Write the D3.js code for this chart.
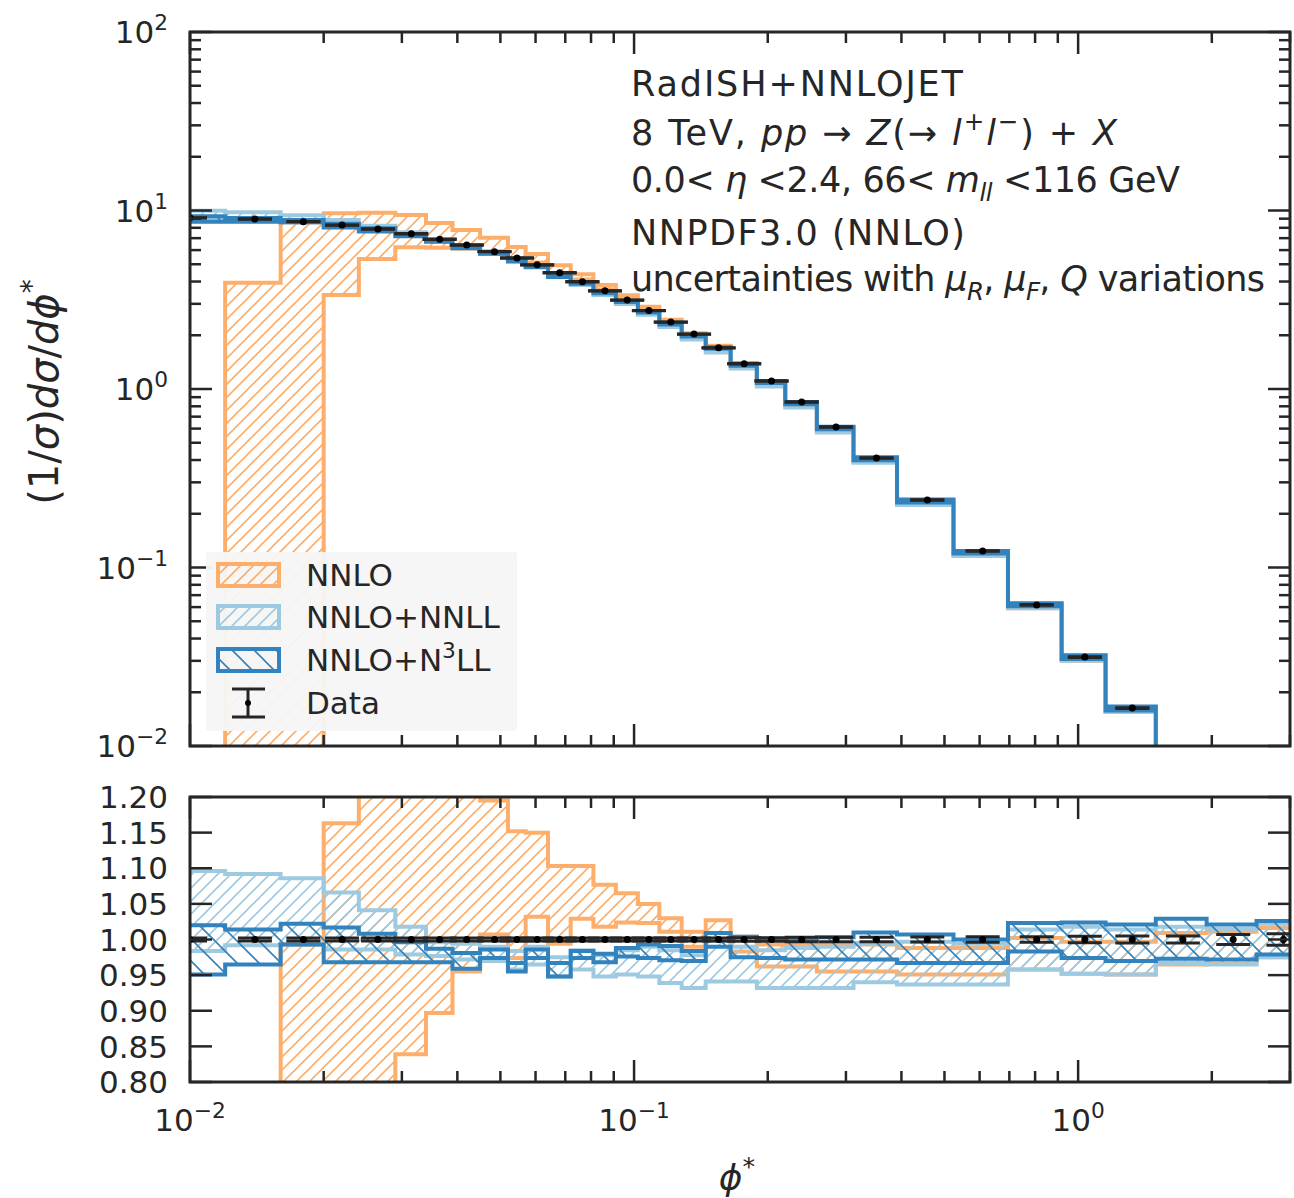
<!DOCTYPE html>
<html><head><meta charset="utf-8">
<script src="https://cdn.jsdelivr.net/npm/d3@7"></script>
<style>body{margin:0;background:#fff} svg text{font-family:"DejaVu Sans", sans-serif;}</style>
</head><body>
<svg id="c" width="1294" height="1198"></svg>
<script>
// ---------------- data ----------------
const binEdges = [0.008,0.012,0.016,0.020,0.024,0.029,0.034,0.039,0.045,0.052,0.057,0.064,0.072,0.081,0.091,0.102,0.114,0.128,0.145,0.165,0.189,0.219,0.258,0.312,0.391,0.524,0.695,0.918,1.153,1.496,1.947,2.522,3.277];
const dataValues = [9.1,8.96,8.66,8.29,7.88,7.41,6.90,6.41,5.88,5.42,4.96,4.48,3.99,3.55,3.15,2.75,2.37,2.03,1.70,1.386,1.109,0.846,0.612,0.411,0.239,0.1237,0.0617,0.0315,0.0163,0.0082,0.0041,0.0019];
const dataRelErr = [0.002,0.002,0.002,0.002,0.002,0.002,0.002,0.002,0.002,0.002,0.002,0.002,0.002,0.002,0.002,0.002,0.002,0.002,0.002,0.0025,0.0025,0.003,0.003,0.003,0.0035,0.004,0.004,0.0047,0.005,0.005,0.007,0.008];
// bands as ratio to data (null = not available, negative = below zero)
const nnloLow  = [null,-1,-1,0.405,0.679,0.839,0.897,0.955,1.007,0.974,1.032,0.994,1.029,1.018,1.024,1.023,1.011,0.990,1.000,0.983,0.962,0.962,0.955,0.955,0.951,0.951,0.958,0.952,0.951,0.965,0.966,0.975];
const nnloHigh = [null,0.44,0.993,1.163,1.233,1.274,1.233,1.213,1.195,1.152,1.150,1.103,1.103,1.077,1.065,1.050,1.030,1.011,1.027,1.004,0.993,0.993,0.993,0.993,0.988,0.988,1.002,0.997,0.997,1.009,1.011,1.016];
const nnllLow  = [0.984,0.992,0.993,0.986,0.986,0.979,0.977,0.972,0.970,0.958,0.965,0.948,0.958,0.948,0.951,0.948,0.939,0.932,0.941,0.941,0.932,0.932,0.932,0.940,0.937,0.937,0.958,0.952,0.951,0.967,0.965,0.975];
const nnllHigh = [1.096,1.092,1.086,1.066,1.041,1.018,0.996,0.994,0.990,0.984,0.990,0.975,0.985,0.978,0.985,0.990,0.985,0.978,0.998,0.990,0.985,0.988,0.990,0.995,0.997,0.994,1.014,1.018,1.014,1.018,1.015,1.022];
const n3llLow  = [0.951,0.965,0.993,0.968,0.968,0.968,0.968,0.959,0.974,0.955,0.974,0.948,0.974,0.968,0.976,0.974,0.971,0.970,0.990,0.975,0.974,0.972,0.972,0.972,0.967,0.967,0.983,0.974,0.970,0.973,0.972,0.979];
const n3llHigh = [1.020,1.014,1.022,1.017,1.008,0.996,0.987,0.981,0.986,0.967,0.986,0.967,0.984,0.980,0.988,0.993,0.991,0.984,1.009,1.004,1.001,1.000,1.003,1.010,1.007,1.000,1.023,1.024,1.021,1.029,1.021,1.026];

const seriesNames = ["NNLO","NNLO+NNLL","NNLO+N³LL"];
const mainTickValues = [0.01,0.1,1,10,100];
const mainTickExps = ["−2","−1","0","1","2"];
const xTickValues = [0.01,0.1,1];
const xTickExps = ["−2","−1","0"];
const ratioTickValues = [0.80,0.85,0.90,0.95,1.00,1.05,1.10,1.15,1.20];
const ratioTickLabels = ["0.80","0.85","0.90","0.95","1.00","1.05","1.10","1.15","1.20"];

// ---------------- layout ----------------
const L = 190, R = 1290, mT = 32, mB = 746, rT = 797, rB = 1082;
const ink = "#262626";
const colors = {nnlo:"#fdae6b", nnll:"#9ecae1", n3ll:"#3182bd"};

const svg = d3.select("#c");
const x = d3.scaleLog().domain([0.01, 3]).range([L, R]);
const yM = d3.scaleLog().domain([0.01, 100]).range([mB, mT]);
const yR = d3.scaleLinear().domain([0.8, 1.2]).range([rB, rT]);

const defs = svg.append("defs");
function hatch(id, color, size, back) {
  const p = defs.append("pattern").attr("id", id).attr("patternUnits","userSpaceOnUse")
    .attr("width", size).attr("height", size);
  const d = back
    ? `M0,0 L${size},${size} M${-size/2},${size/2} L${size/2},${size*1.5} M${size/2},${-size/2} L${size*1.5},${size/2}`
    : `M0,${size} L${size},0 M${-size/2},${size/2} L${size/2},${-size/2} M${size/2},${size*1.5} L${size*1.5},${size/2}`;
  p.append("path").attr("d", d).attr("stroke", color).attr("stroke-width", 1.6).attr("fill","none");
}
hatch("hNNLO", colors.nnlo, 13, false);
hatch("hNNLL", colors.nnll, 13, false);
hatch("hN3LL", colors.n3ll, 22, true);

defs.append("clipPath").attr("id","clipM").append("rect").attr("x",L).attr("y",mT).attr("width",R-L).attr("height",mB-mT);
defs.append("clipPath").attr("id","clipR").append("rect").attr("x",L).attr("y",rT).attr("width",R-L).attr("height",rB-rT);

function bandPath(lo, hi, yFn) {
  const segs = []; let cur = null;
  for (let i = 0; i < lo.length; i++) {
    if (lo[i] === null || hi[i] === null) { cur = null; continue; }
    if (!cur) { cur = []; segs.push(cur); }
    cur.push(i);
  }
  return segs.map(idx => {
    const up = [], dn = [];
    idx.forEach(i => {
      up.push([x(binEdges[i]), yFn(hi[i], i)], [x(binEdges[i+1]), yFn(hi[i], i)]);
      dn.push([x(binEdges[i]), yFn(lo[i], i)], [x(binEdges[i+1]), yFn(lo[i], i)]);
    });
    const pts = up.concat(dn.reverse());
    return "M" + pts.map(p => p[0].toFixed(2) + "," + p[1].toFixed(2)).join("L") + "Z";
  }).join("");
}
const yMainFn = (r, i) => { const v = r * dataValues[i]; return v > 0 ? Math.min(yM(v), mB + 50) : mB + 50; };
const yRatioFn = (r) => Math.max(Math.min(yR(r), rB + 50), rT - 50);

const bands = [
  {lo: nnloLow, hi: nnloHigh, c: colors.nnlo, h: "hNNLO"},
  {lo: nnllLow, hi: nnllHigh, c: colors.nnll, h: "hNNLL"},
  {lo: n3llLow, hi: n3llHigh, c: colors.n3ll, h: "hN3LL"}
];

function drawPanel(clipId, yFn) {
  const g = svg.append("g").attr("clip-path", `url(#${clipId})`);
  bands.forEach(b => {
    g.append("path").attr("d", bandPath(b.lo, b.hi, yFn))
      .attr("fill", `url(#${b.h})`).attr("stroke", b.c).attr("stroke-width", 4)
      .attr("stroke-linejoin","miter");
  });
  return g;
}
const gM = drawPanel("clipM", yMainFn);
const gR = drawPanel("clipR", yRatioFn);

// data error bars
function drawData(g, valFn, yS) {
  dataValues.forEach((v, i) => {
    const cx = x((binEdges[i] + binEdges[i+1]) / 2);
    const val = valFn(i), e = dataRelErr[i] * val;
    const y0 = yS(val - e), y1 = yS(val + e);
    g.append("line").attr("x1",cx).attr("x2",cx).attr("y1",y0).attr("y2",y1).attr("stroke",ink).attr("stroke-width",3);
    [y0, y1].forEach(yy => g.append("line").attr("x1",cx-17).attr("x2",cx+17).attr("y1",yy).attr("y2",yy)
      .attr("stroke",ink).attr("stroke-width",3));
    g.append("circle").attr("cx",cx).attr("cy",yS(val)).attr("r",3.5).attr("fill","#000");
  });
}
drawData(gM, i => dataValues[i], yM);
drawData(gR, i => 1, yR);

// ---------------- axes ----------------
const tickW = 2.5, major = 22, minor = 11;
function tick(x1, y1, x2, y2) {
  svg.append("line").attr("x1",x1).attr("y1",y1).attr("x2",x2).attr("y2",y2).attr("stroke",ink).attr("stroke-width",tickW);
}
const xAll = x.ticks().filter(t => t >= 0.01 && t <= 3);
function xTicks(top, bottom) {
  xAll.forEach(t => {
    const isMajor = xTickValues.some(m => Math.abs(m - t) / m < 1e-6);
    const len = isMajor ? major : minor;
    tick(x(t), bottom, x(t), bottom - len);
    tick(x(t), top, x(t), top + len);
  });
}
xTicks(mT, mB); xTicks(rT, rB);

const yAll = yM.ticks().filter(t => t >= 0.01 && t <= 100);
yAll.forEach(t => {
  const isMajor = mainTickValues.some(m => Math.abs(m - t) / m < 1e-6);
  const len = isMajor ? major : minor;
  tick(L, yM(t), L + len, yM(t));
  tick(R, yM(t), R - len, yM(t));
});
ratioTickValues.forEach(t => {
  tick(L, yR(t), L + major, yR(t));
  tick(R, yR(t), R - major, yR(t));
});

// spines
[[mT, mB], [rT, rB]].forEach(([t, b]) => {
  svg.append("rect").attr("x",L).attr("y",t).attr("width",R-L).attr("height",b-t)
    .attr("fill","none").attr("stroke",ink).attr("stroke-width",3);
});

// rich text helper
function rich(parent, px, py, segs, fs, anchor, extra) {
  const t = parent.append("text").attr("x",px).attr("y",py).attr("font-size",fs)
    .attr("text-anchor",anchor || "start").attr("fill",ink);
  if (extra) extra(t);
  let shift = 0;
  segs.forEach(s => {
    const sp = t.append("tspan").text(s.t);
    let target = 0, size = fs;
    if (s.sup) { target = -0.42 * fs; size = 0.7 * fs; }
    if (s.sub) { target = 0.25 * fs; size = 0.7 * fs; }
    if (target !== shift) sp.attr("dy", target - shift);
    shift = target;
    sp.attr("font-size", size);
    if (s.it) sp.attr("font-style","italic");
  });
  return t;
}

const tfs = 31;
mainTickValues.forEach((v, i) => {
  rich(svg, 168, yM(v) + 0.36 * tfs, [{t:"10"},{t:mainTickExps[i], sup:true}], tfs, "end");
});
ratioTickValues.forEach((v, i) => {
  svg.append("text").attr("x",168).attr("y",yR(v) + 0.36 * tfs).attr("font-size",tfs)
    .attr("text-anchor","end").attr("fill",ink).text(ratioTickLabels[i]);
});
xTickValues.forEach((v, i) => {
  rich(svg, x(v), 1131, [{t:"10"},{t:xTickExps[i], sup:true}], tfs, "middle");
});

// axis labels
rich(svg, 0, 0, [
  {t:"(1/"},{t:"σ", it:true},{t:")"},{t:"dσ", it:true},
  {t:"/"},{t:"dϕ", it:true},{t:"*", sup:true}
], 40, "middle", t => t.attr("transform","translate(58,392) rotate(-90)").attr("x",0).attr("y",0));
rich(svg, 737, 1190, [{t:"ϕ", it:true},{t:"*", sup:true}], 36, "middle");

// annotation
const afs = 35, ax = 631;
const fit = w => (t => t.attr("textLength", w).attr("lengthAdjust","spacing"));
rich(svg, ax, 96, [{t:"RadISH+NNLOJET"}], afs, "start", fit(332));
rich(svg, ax, 145, [{t:"8 TeV, "},{t:"pp", it:true},{t:" → "},{t:"Z", it:true},{t:"(→ "},
  {t:"l", it:true},{t:"+", sup:true},{t:"l", it:true},{t:"−", sup:true},{t:") + "},{t:"X", it:true}], afs, "start", fit(486));
rich(svg, ax, 192, [{t:"0.0< "},{t:"η", it:true},{t:" <2.4, 66< "},{t:"m", it:true},{t:"ll", it:true, sub:true},{t:" <116 GeV"}], afs, "start", fit(549));
rich(svg, ax, 245, [{t:"NNPDF3.0 (NNLO)"}], afs, "start", fit(334));
rich(svg, ax, 291, [{t:"uncertainties with "},{t:"μ", it:true},{t:"R", it:true, sub:true},{t:", "},
  {t:"μ", it:true},{t:"F", it:true, sub:true},{t:", "},{t:"Q", it:true},{t:" variations"}], afs, "start", fit(634));

// legend
const lg = svg.append("g");
lg.append("rect").attr("x",206).attr("y",552).attr("width",311).attr("height",179).attr("rx",3)
  .attr("fill","#f6f6f6").attr("opacity",0.95);
const lfs = 31;
const legendY = [575, 617, 660];
bands.forEach((b, i) => {
  lg.append("rect").attr("x",218).attr("y",legendY[i]-11).attr("width",61).attr("height",22)
    .attr("fill",`url(#${b.h})`).attr("stroke",b.c).attr("stroke-width",4);
});
rich(lg, 306, legendY[0] + 11, [{t:seriesNames[0]}], lfs);
rich(lg, 306, legendY[1] + 11, [{t:seriesNames[1]}], lfs);
rich(lg, 306, legendY[2] + 11, [{t:"NNLO+N"},{t:"3", sup:true},{t:"LL"}], lfs);
const dY = 703;
lg.append("line").attr("x1",248).attr("x2",248).attr("y1",dY-14).attr("y2",dY+14).attr("stroke",ink).attr("stroke-width",3);
[dY-14, dY+14].forEach(yy => lg.append("line").attr("x1",232).attr("x2",265).attr("y1",yy).attr("y2",yy).attr("stroke",ink).attr("stroke-width",3));
lg.append("circle").attr("cx",248).attr("cy",dY).attr("r",3).attr("fill","#000");
rich(lg, 306, dY + 11, [{t:"Data"}], lfs);
</script>
</body></html>
